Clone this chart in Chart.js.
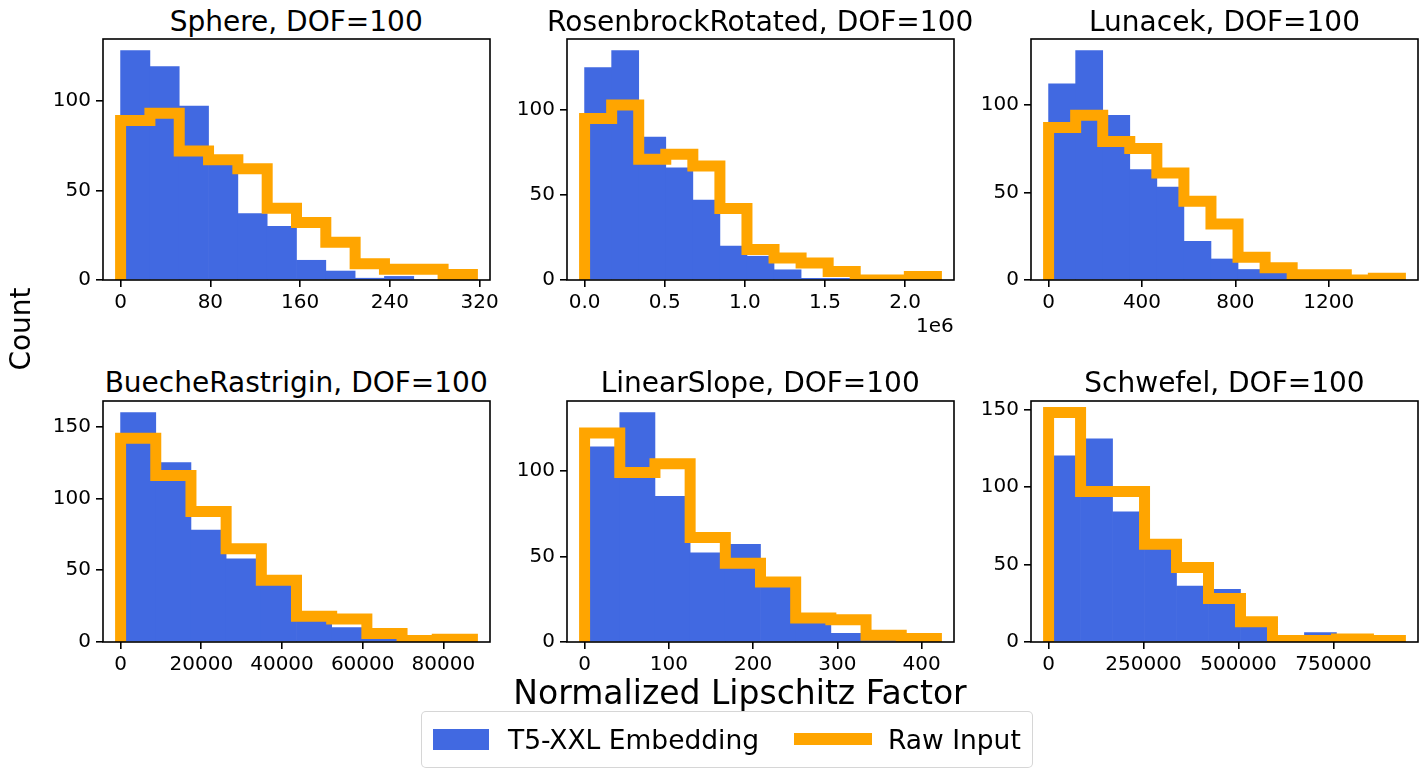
<!DOCTYPE html>
<html>
<head>
<meta charset="utf-8">
<script src="https://cdn.jsdelivr.net/npm/chart.js@4.4.1/dist/chart.umd.min.js"></script>
<style>
  body { margin:0; background:#fff; width:1428px; height:777px; overflow:hidden; position:relative; font-family:'DejaVu Sans', sans-serif; color:#000; }
  canvas.panel { position:absolute; }
  .txt { position:absolute; white-space:nowrap; line-height:1; }
  .ttl { font-size:28px; text-align:center; width:500px; }
  #legend { position:absolute; box-sizing:border-box; border:1.6px solid rgba(204,204,204,0.8); border-radius:5px; background:#fff; }
</style>
</head>
<body>
<div id="root"></div>
<div class="txt" id="ylab" style="font-size:28px; left:-21px; top:315px; width:84px; text-align:center; transform:rotate(-90deg);">Count</div>
<div class="txt" id="xlab" style="font-size:33px; left:490px; top:676px; width:500px; text-align:center;">Normalized Lipschitz Factor</div>
<div class="txt" id="offset" style="font-size:20px; left:903.7px; top:315px; width:50px; text-align:right;">1e6</div>
<div id="legend" style="left:421px; top:711px; width:612px; height:57px;">
  <div style="position:absolute; left:11px; top:17px; width:56px; height:21px; background:#4169E1;"></div>
  <div class="txt" style="font-size:26.5px; left:86px; top:15px;">T5-XXL Embedding</div>
  <div style="position:absolute; left:372px; top:21px; width:78px; height:12px; background:#FFA500;"></div>
  <div class="txt" style="font-size:26.5px; left:466px; top:15px;">Raw Input</div>
</div>
<script>
// panel titles
const panelTitles = ['Sphere, DOF=100', 'RosenbrockRotated, DOF=100', 'Lunacek, DOF=100',
                     'BuecheRastrigin, DOF=100', 'LinearSlope, DOF=100', 'Schwefel, DOF=100'];

// histogram ranges (first edge, last edge)
const sphereRange = [0, 313.5];
const rosenRange = [0, 2195000];
const lunacekRange = [0, 1507];
const buecheRange = [0, 87190];
const slopeRange = [0, 417.5];
const schwefelRange = [0, 926300];

// counts per bin, T5-XXL embedding (blue bars)
const sphereT5 = [128, 119, 97, 69, 37, 30, 11, 5, 1, 2, 0, 0];
const rosenT5 = [125, 135, 84, 66, 47, 20, 14, 6, 1, 1, 0, 0, 0];
const lunacekT5 = [112, 131, 94, 63, 53, 22, 12, 6, 4, 0, 0, 0, 0];
const buecheT5 = [160, 125, 78, 58, 45, 18, 10, 2, 0, 0];
const slopeT5 = [114, 134, 85, 52, 57, 36, 14, 5, 2, 1];
const schwefelT5 = [120, 131, 84, 65, 36, 34, 14, 3, 6, 2, 1];

// counts per bin, raw input (orange step)
const sphereRaw = [89, 93, 72, 67, 62, 40, 32, 21, 9, 6, 6, 3];
const rosenRaw = [95, 103, 71, 74, 67, 42, 18, 13, 10, 5, 0, 0, 2];
const lunacekRaw = [87, 94, 79, 75, 61, 45, 32, 13, 7, 3, 3, 0, 1];
const buecheRaw = [142, 116, 91, 65, 43, 18, 16, 6, 1, 2];
const slopeRaw = [122, 99, 104, 61, 46, 35, 14, 13, 4, 2];
const schwefelRaw = [148, 97, 97, 63, 48, 28, 13, 1, 1, 2, 1];

// tick labels
const sphereXTicks = [0, 80, 160, 240, 320];
const rosenXTicks = [0, 500000, 1000000, 1500000, 2000000];
const lunacekXTicks = [0, 400, 800, 1200];
const buecheXTicks = [0, 20000, 40000, 60000, 80000];
const slopeXTicks = [0, 100, 200, 300, 400];
const schwefelXTicks = [0, 250000, 500000, 750000];
const yTicksSmall = [0, 50, 100];
const yTicksLarge = [0, 50, 100, 150];

const plain = v => String(v);
const panels = [
    { range: sphereRange, t5: sphereT5, raw: sphereRaw, xTicks: sphereXTicks, yTicks: yTicksSmall, fmt: plain },
    { range: rosenRange, t5: rosenT5, raw: rosenRaw, xTicks: rosenXTicks, yTicks: yTicksSmall, fmt: v => (v / 1e6).toFixed(1) },
    { range: lunacekRange, t5: lunacekT5, raw: lunacekRaw, xTicks: lunacekXTicks, yTicks: yTicksSmall, fmt: plain },
    { range: buecheRange, t5: buecheT5, raw: buecheRaw, xTicks: buecheXTicks, yTicks: yTicksLarge, fmt: plain },
    { range: slopeRange, t5: slopeT5, raw: slopeRaw, xTicks: slopeXTicks, yTicks: yTicksSmall, fmt: plain },
    { range: schwefelRange, t5: schwefelT5, raw: schwefelRaw, xTicks: schwefelXTicks, yTicks: yTicksLarge, fmt: plain }
];

// axes boxes (matplotlib subplot frames)
const AX_W = 387, AX_H = 241;
const PAD_L = 80, PAD_T = 25, PAD_R = 30, PAD_B = 45;
const colLefts = [102.7, 566.7, 1031];
const rowTops = [39.3, 401];

const framePlugin = {
    id: 'frame',
    afterDraw(chart) {
        const a = chart.chartArea, ctx = chart.ctx;
        ctx.save();
        ctx.strokeStyle = '#000';
        ctx.lineWidth = 1.6;
        ctx.strokeRect(a.left, a.top, a.right - a.left, a.bottom - a.top);
        ctx.restore();
    }
};

const tickFont = { family: 'DejaVu Sans', size: 20 };
const axisGrid = { drawOnChartArea: false, drawTicks: true, tickLength: 7, color: '#000', lineWidth: 1.6, offset: false };

panels.forEach((p, i) => {
    const left = colLefts[i % 3], top = rowTops[Math.floor(i / 3)];
    const root = document.getElementById('root');

    const title = document.createElement('div');
    title.className = 'txt ttl';
    title.textContent = panelTitles[i];
    title.style.left = (left + AX_W / 2 - 250) + 'px';
    title.style.top = (top - 8 - 23.7) + 'px';
    root.appendChild(title);

    const cv = document.createElement('canvas');
    cv.className = 'panel';
    const cw = PAD_L + AX_W + PAD_R, ch = PAD_T + AX_H + PAD_B;
    cv.width = cw; cv.height = ch;
    cv.style.width = cw + 'px'; cv.style.height = ch + 'px';
    cv.style.left = (left - PAD_L) + 'px';
    cv.style.top = (top - PAD_T) + 'px';
    root.appendChild(cv);

    const n = p.t5.length;
    const step = (p.range[1] - p.range[0]) / n;
    const edges = [];
    for (let k = 0; k <= n; k++) edges.push(p.range[0] + k * step);

    const bars = p.t5.map((c, k) => ({ x: (edges[k] + edges[k + 1]) / 2, y: c }));
    // step outline: each point holds the count of the bin that ends at its x
    const outline = [{ x: edges[0], y: 0 }, { x: edges[0], y: p.raw[0] }];
    p.raw.forEach((c, k) => outline.push({ x: edges[k + 1], y: k + 1 < n ? p.raw[k + 1] : 0 }));

    const margin = 0.05 * (p.range[1] - p.range[0]);
    const yMax = 1.05 * Math.max(...p.t5, ...p.raw);

    new Chart(cv.getContext('2d'), {
        type: 'bar',
        data: {
            datasets: [
                {
                    type: 'line',
                    label: 'Raw Input',
                    data: outline,
                    stepped: 'before',
                    borderColor: '#FFA500',
                    borderWidth: 11,
                    borderJoinStyle: 'miter',
                    borderCapStyle: 'butt',
                    pointRadius: 0,
                    fill: false,
                    clip: 0,
                    order: 0
                },
                {
                    type: 'bar',
                    label: 'T5-XXL Embedding',
                    data: bars,
                    backgroundColor: '#4169E1',
                    borderWidth: 0,
                    barPercentage: 1,
                    categoryPercentage: 1,
                    order: 1
                }
            ]
        },
        options: {
            responsive: false,
            animation: false,
            events: [],
            layout: { padding: { top: PAD_T, right: PAD_R, left: 0, bottom: 0 } },
            plugins: { legend: { display: false }, tooltip: { enabled: false } },
            scales: {
                x: {
                    type: 'linear',
                    offset: false,
                    min: p.range[0] - margin,
                    max: p.range[1] + margin,
                    afterFit: s => { s.height = PAD_B; },
                    afterBuildTicks: s => { s.ticks = p.xTicks.map(v => ({ value: v })); },
                    grid: axisGrid,
                    border: { display: false },
                    ticks: { color: '#000', font: tickFont, padding: 4, maxRotation: 0, autoSkip: false, callback: v => p.fmt(v) }
                },
                y: {
                    min: 0,
                    max: yMax,
                    afterFit: s => { s.width = PAD_L; },
                    afterBuildTicks: s => { s.ticks = p.yTicks.map(v => ({ value: v })); },
                    grid: axisGrid,
                    border: { display: false },
                    ticks: { color: '#000', font: tickFont, padding: 5, callback: v => String(v) }
                }
            }
        },
        plugins: [framePlugin]
    });
});
</script>
</body>
</html>
